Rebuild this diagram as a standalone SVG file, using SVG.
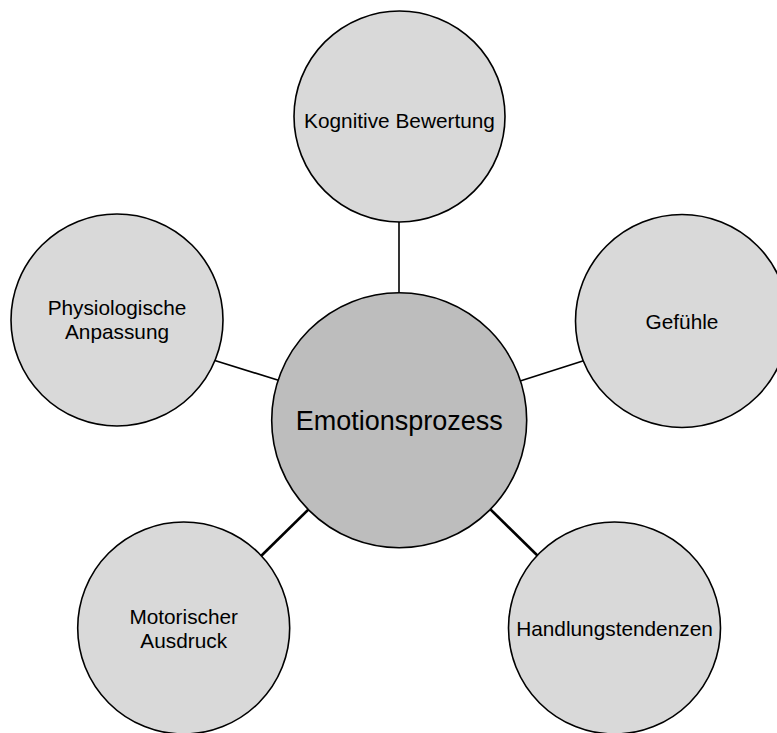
<svg xmlns="http://www.w3.org/2000/svg" width="777" height="733" viewBox="0 0 777 733">
<style>
.bg{fill:#ffffff}
.outer{fill:#d9d9d9;stroke:#000;stroke-width:1.6}
.center{fill:#bdbdbd;stroke:#000;stroke-width:1.6}
.lbl{font-family:"Liberation Sans",Arial,sans-serif;font-size:20.8px;fill:#000;text-anchor:middle}
.main{font-family:"Liberation Sans",Arial,sans-serif;font-size:27px;fill:#000;text-anchor:middle}
.conn{stroke:#000;stroke-width:1.6;fill:none}
.conn2{stroke:#000;stroke-width:2.6;fill:none}
</style>
<rect class="bg" x="0" y="0" width="777" height="733"/>
<g id="connectors">
<line class="conn" x1="399" y1="215" x2="399" y2="300"/>
<line class="conn" x1="210" y1="359" x2="284" y2="382"/>
<line class="conn" x1="517" y1="382" x2="589" y2="359"/>
<line class="conn2" x1="313" y1="505" x2="258" y2="559"/>
<line class="conn2" x1="486" y1="505" x2="542" y2="560"/>
</g>
<g id="kognitive">
<circle class="outer" cx="399.5" cy="116.5" r="105.5"/>
<text class="lbl" x="399.5" y="128">Kognitive Bewertung</text>
</g>
<g id="gefuehle">
<circle class="outer" cx="682" cy="321" r="106.5"/>
<text class="lbl" x="682" y="328.5">Gefühle</text>
</g>
<g id="physiologische">
<circle class="outer" cx="117" cy="320" r="106"/>
<text class="lbl" x="117" y="315">Physiologische</text>
<text class="lbl" x="117" y="339">Anpassung</text>
</g>
<g id="motorischer">
<circle class="outer" cx="183.7" cy="628" r="106"/>
<text class="lbl" x="183.7" y="623.5">Motorischer</text>
<text class="lbl" x="183.7" y="648">Ausdruck</text>
</g>
<g id="handlung">
<circle class="outer" cx="614.5" cy="628" r="106"/>
<text class="lbl" x="614.5" y="636">Handlungstendenzen</text>
</g>
<g id="emotionsprozess">
<circle class="center" cx="399.2" cy="420.2" r="127.5"/>
<text class="main" x="399.3" y="430">Emotionsprozess</text>
</g>
</svg>
